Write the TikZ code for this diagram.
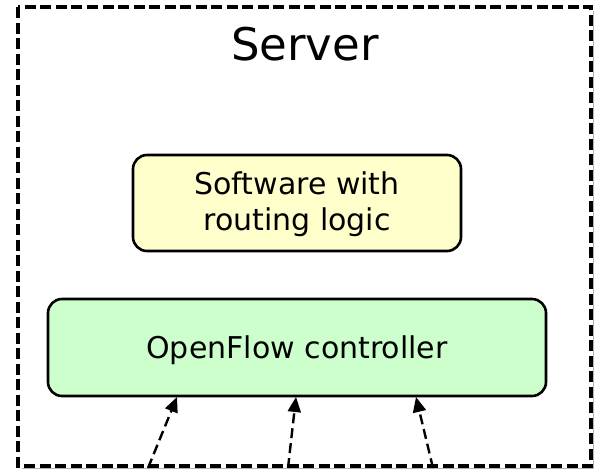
\documentclass[tikz,border=0pt]{standalone}
\usepackage{fontspec}
\setmainfont{DejaVu Sans}
\usetikzlibrary{arrows.meta}
\definecolor{softyellow}{HTML}{FFFFCC}
\definecolor{softgreen}{HTML}{CCFFCC}
\begin{document}
\begin{tikzpicture}[x=1pt,y=-1pt,
  frame/.style={draw=black,line width=3.6pt,dash pattern=on 11pt off 4.5pt},
  roundbox/.style={draw=black,line width=2.6pt,rounded corners=14pt},
  link/.style={line width=2.4pt,dash pattern=on 10pt off 5pt,-{Triangle[length=15pt,width=13pt]}}
]
\useasboundingbox (0,0) rectangle (597,472);
% faint shadow along the lower and right edges of the frame
\draw[black!30,line width=1.5pt] (22,468.5) -- (593.5,468.5) -- (593.5,11);
% outer server frame
\draw[frame] (18,7) rectangle (591,466);
\node[font=\fontsize{45}{54}\selectfont] (title) at (305,44) {Server};
% software box
\draw[roundbox,fill=softyellow] (133,155) rectangle (461,251);
\node[font=\fontsize{30}{36}\selectfont,align=center] (sw) at (297,204) {Software with\\routing logic};
% controller box
\draw[roundbox,fill=softgreen] (48,299) rectangle (546,396);
\node[font=\fontsize{30}{36}\selectfont] (ctl) at (297,350) {OpenFlow controller};
% incoming connections
\coordinate (s1) at (148,468);
\coordinate (s2) at (288,468);
\coordinate (s3) at (433,468);
\coordinate (t1) at (177,397);
\coordinate (t2) at (296,397);
\coordinate (t3) at (416,397);
\draw[link] (s1) -- (t1);
\draw[link] (s2) -- (t2);
\draw[link] (s3) -- (t3);
\end{tikzpicture}
\end{document}
